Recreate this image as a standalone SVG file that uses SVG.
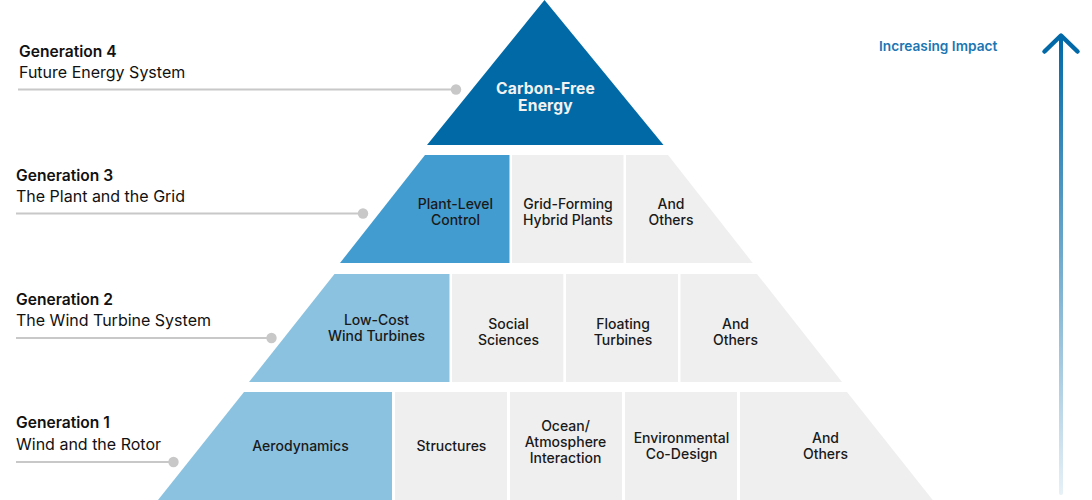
<svg xmlns="http://www.w3.org/2000/svg" width="1092" height="500" viewBox="0 0 1092 500">
<defs>
<style>
text{font-family:Inter,"Liberation Sans","DejaVu Sans",sans-serif;}
.gen{font-size:15.6px;font-weight:600;fill:#111;}
.sub{font-size:16px;font-weight:400;fill:#111;}
.cell{font-size:14px;font-weight:500;fill:#1a1a1a;text-anchor:middle;}
.top{font-size:15.6px;font-weight:700;fill:#f2f2f2;text-anchor:middle;letter-spacing:0.2px;}
.gray{fill:#efefef;}
.blue1{fill:#8bc2e0;}
.blue3{fill:#439cd0;}
.lead{stroke:#c8c8c8;stroke-width:2;fill:none;}
.dot{fill:#c8c8c8;}
</style>
<linearGradient id="arrowGrad" gradientUnits="userSpaceOnUse" x1="1061" y1="37" x2="1061" y2="493">
<stop offset="0" stop-color="#0169a7"/>
<stop offset="1" stop-color="#0169a7" stop-opacity="0.1"/>
</linearGradient>
</defs>
<rect width="1092" height="500" fill="#ffffff"/>

<g id="gen4-label">
<text class="gen" x="19" y="56.5">Generation 4</text>
<text class="sub" x="19" y="78">Future Energy System</text>
</g>
<g id="gen3-label">
<text class="gen" x="16" y="180.5">Generation 3</text>
<text class="sub" x="16" y="202">The Plant and the Grid</text>
</g>
<g id="gen2-label">
<text class="gen" x="16" y="304.5">Generation 2</text>
<text class="sub" x="16" y="326">The Wind Turbine System</text>
</g>
<g id="gen1-label">
<text class="gen" x="16" y="428">Generation 1</text>
<text class="sub" x="16" y="450">Wind and the Rotor</text>
</g>

<g id="connectors">
<line class="lead" x1="18" y1="89.5" x2="456" y2="89.5"/>
<circle class="dot" cx="456" cy="89.5" r="5.2"/>
<line class="lead" x1="16" y1="213.5" x2="363" y2="213.5"/>
<circle class="dot" cx="363" cy="213.5" r="5.2"/>
<line class="lead" x1="16" y1="338" x2="271.5" y2="338"/>
<circle class="dot" cx="271.5" cy="338" r="5.2"/>
<line class="lead" x1="16" y1="462" x2="173.5" y2="462"/>
<circle class="dot" cx="173.5" cy="462" r="5.2"/>
</g>

<g id="carbon-free-energy">
<polygon points="544.5,0 663.5,145 427,145" fill="#0169a6"/>
<text class="top" x="545.5" y="93.5">Carbon-Free</text>
<text class="top" x="545.5" y="111">Energy</text>
</g>

<g id="plant-level-control">
<polygon class="blue3" points="425,155 509.5,155 509.5,263 340,263"/>
<text class="cell" x="455.5" y="209">Plant-Level</text>
<text class="cell" x="455.5" y="224.5">Control</text>
</g>
<g id="grid-forming-hybrid-plants">
<rect class="gray" x="512" y="155" width="111.5" height="108"/>
<text class="cell" x="568" y="209">Grid-Forming</text>
<text class="cell" x="568" y="225">Hybrid Plants</text>
</g>
<g id="gen3-and-others">
<polygon class="gray" points="626,155 668,155 752.7,263 626,263"/>
<text class="cell" x="671" y="209">And</text>
<text class="cell" x="671" y="225">Others</text>
</g>

<g id="low-cost-wind-turbines">
<polygon class="blue1" points="334.5,274 449.5,274 449.5,382 249,382"/>
<text class="cell" x="376.5" y="325">Low-Cost</text>
<text class="cell" x="376.5" y="341">Wind Turbines</text>
</g>
<g id="social-sciences">
<rect class="gray" x="452" y="274" width="111.3" height="108"/>
<text class="cell" x="508.5" y="328.5">Social</text>
<text class="cell" x="508.5" y="344.5">Sciences</text>
</g>
<g id="floating-turbines">
<rect class="gray" x="566" y="274" width="112" height="108"/>
<text class="cell" x="623" y="328.5">Floating</text>
<text class="cell" x="623" y="344.5">Turbines</text>
</g>
<g id="gen2-and-others">
<polygon class="gray" points="680.5,274 757,274 842,382 680.5,382"/>
<text class="cell" x="735.5" y="328.5">And</text>
<text class="cell" x="735.5" y="344.5">Others</text>
</g>

<g id="aerodynamics">
<polygon class="blue1" points="244,392 392,392 392,500 158,500"/>
<text class="cell" x="300.5" y="451">Aerodynamics</text>
</g>
<g id="structures">
<rect class="gray" x="395" y="392" width="112" height="108"/>
<text class="cell" x="451.5" y="451">Structures</text>
</g>
<g id="ocean-atmosphere-interaction">
<rect class="gray" x="510" y="392" width="112" height="108"/>
<text class="cell" x="565.5" y="430.5">Ocean/</text>
<text class="cell" x="565.5" y="446.5">Atmosphere</text>
<text class="cell" x="565.5" y="462.5">Interaction</text>
</g>
<g id="environmental-co-design">
<rect class="gray" x="625" y="392" width="112" height="108"/>
<text class="cell" x="681.5" y="443">Environmental</text>
<text class="cell" x="681.5" y="459">Co-Design</text>
</g>
<g id="gen1-and-others">
<polygon class="gray" points="740,392 847,392 932.7,500 740,500"/>
<text class="cell" x="825.5" y="443">And</text>
<text class="cell" x="825.5" y="459">Others</text>
</g>

<g id="increasing-impact">
<text x="879" y="50.5" style="font-size:13.7px;font-weight:600;fill:#1b76b3;">Increasing Impact</text>
<line x1="1061" y1="37" x2="1061" y2="493" stroke="url(#arrowGrad)" stroke-width="4" stroke-linecap="round"/>
<polyline points="1044.5,51.5 1061,35.5 1077.5,51.5" fill="none" stroke="#0169a7" stroke-width="4.5" stroke-linecap="round" stroke-linejoin="round"/>
</g>
</svg>
